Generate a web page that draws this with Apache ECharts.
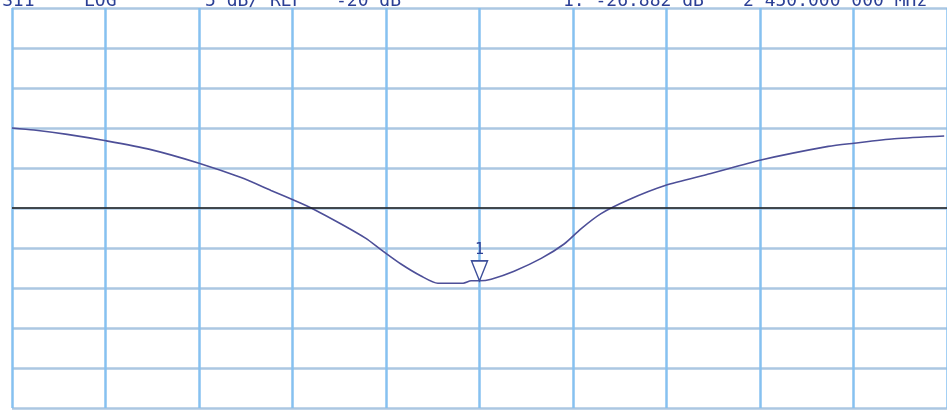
<!DOCTYPE html>
<html>
<head>
<meta charset="utf-8">
<script src="https://cdn.jsdelivr.net/npm/echarts@6/dist/echarts.min.js"></script>
<style>html,body{margin:0;padding:0;background:#fff}#c{width:947px;height:413px}</style>
</head>
<body>
<div id="c"></div>
<script>
// Frequency (MHz) and S11 magnitude (dB)
const freqMHz = [2350.0, 2354.7, 2361.8, 2370.1, 2379.7, 2390.0, 2399.0, 2405.4, 2411.8, 2414.0,
  2420.4, 2425.7, 2428.9, 2433.2, 2437.5, 2441.1, 2446.5, 2448.2, 2450.0, 2452.5,
  2457.4, 2463.2, 2468.1, 2471.7, 2476.0, 2481.8, 2489.7, 2499.5, 2510.2, 2524.6,
  2530.1, 2538.7, 2549.4];
const s11dB = [-10.0, -10.25, -10.8, -11.6, -12.7, -14.4, -16.2, -17.8, -19.4, -20.0,
  -22.0, -23.8, -25.2, -27.0, -28.5, -29.4, -29.4, -29.1, -29.1, -28.9,
  -27.9, -26.3, -24.5, -22.6, -20.7, -19.0, -17.2, -15.7, -14.0, -12.3,
  -11.9, -11.35, -11.0];
const refLevel = -20;
const markerFreq = 2450.0;
const markerIndex = 18;
const headerLeft = ['S11', 'LOG', '5 dB/ REF', '-20 dB'];
const headerRight = ['1: -26.882 dB', '2 450.000 000 MHz'];

const chart = echarts.init(document.getElementById('c'));
const txt = (t, x) => ({
  type: 'text', left: x, top: -8,
  style: { text: t, fill: '#2b3f95', font: '18px "DejaVu Sans Mono", monospace' }
});
chart.setOption({
  animation: false,
  backgroundColor: '#ffffff',
  grid: { left: 12, top: 8, width: 936, height: 400, containLabel: false },
  xAxis: {
    type: 'value', min: 2350, max: 2550, interval: 20,
    axisLine: { show: false }, axisTick: { show: false }, axisLabel: { show: false },
    splitLine: { show: true, lineStyle: { color: '#86c1f0', width: 2.5 } }
  },
  yAxis: {
    type: 'value', min: -45, max: 5, interval: 5,
    axisLine: { show: false }, axisTick: { show: false }, axisLabel: { show: false },
    splitLine: { show: true, lineStyle: { color: '#abc7e2', width: 2.5 } }
  },
  graphic: [
    txt(headerLeft[0], 2), txt(headerLeft[1], 84), txt(headerLeft[2], 205), txt(headerLeft[3], 336),
    txt(headerRight[0], 563), txt(headerRight[1], 743)
  ],
  series: [{
    type: 'line',
    data: freqMHz.map((f, i) => [f, s11dB[i]]),
    smooth: 0.25,
    showSymbol: false,
    lineStyle: { color: '#4d4f98', width: 1.6 },
    markLine: {
      silent: true, symbol: 'none', label: { show: false },
      lineStyle: { color: '#1a1a1a', width: 1.6, type: 'solid' },
      data: [{ yAxis: refLevel }]
    },
    markPoint: {
      symbol: 'triangle', symbolRotate: 180, symbolSize: [16, 20], symbolOffset: [0, -10],
      itemStyle: { color: '#ffffff', borderColor: '#3d4f9a', borderWidth: 1.5 },
      label: { show: true, position: 'top', distance: 2, formatter: '1',
        color: '#2b3f95', fontSize: 15, fontFamily: 'DejaVu Sans Mono', textDecoration: 'underline' },
      data: [{ coord: [markerFreq, s11dB[markerIndex]] }]
    }
  }]
});
</script>
</body>
</html>
